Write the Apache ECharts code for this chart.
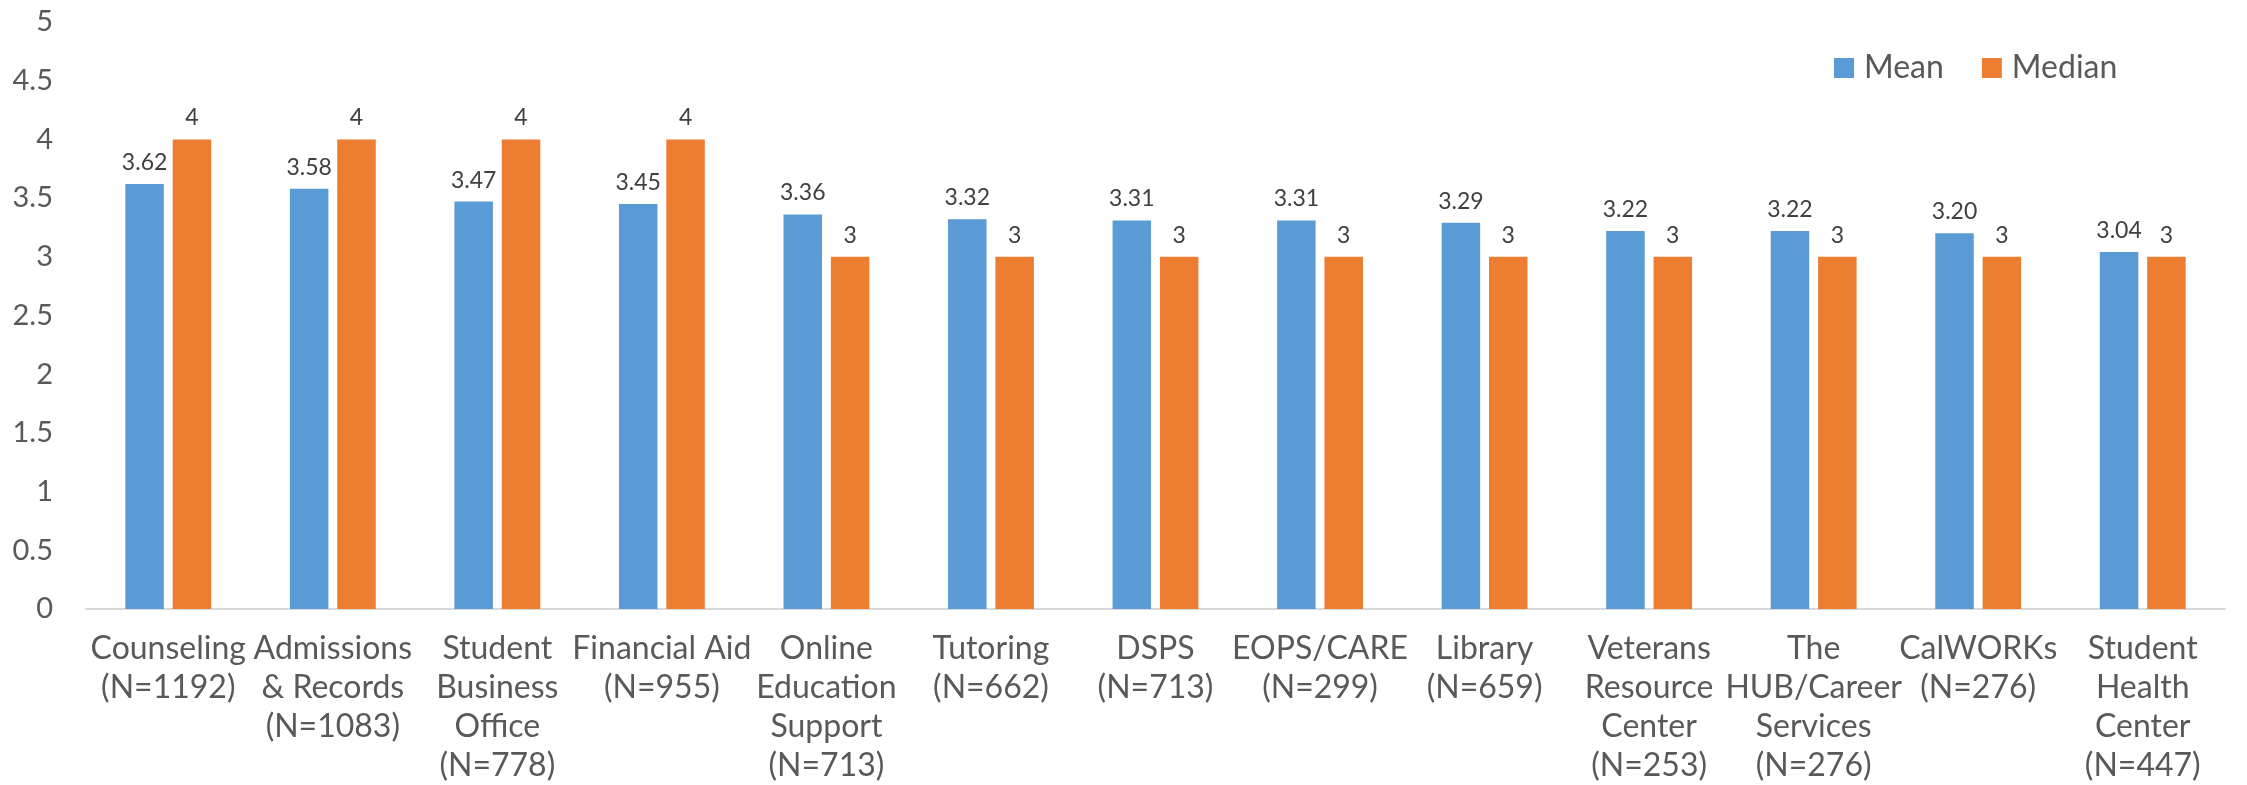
<!DOCTYPE html>
<html>
<head>
<meta charset="utf-8">
<script src="https://cdn.jsdelivr.net/npm/echarts@6/dist/echarts.min.js"></script>
<style>
html,body{margin:0;padding:0;background:#fff;}
#chart{width:2247px;height:785px;}
</style>
</head>
<body>
<div id="chart"></div>
<script>
const categories = [
  "Counseling\n(N=1192)",
  "Admissions\n& Records\n(N=1083)",
  "Student\nBusiness\nOffice\n(N=778)",
  "Financial Aid\n(N=955)",
  "Online\nEducation\nSupport\n(N=713)",
  "Tutoring\n(N=662)",
  "DSPS\n(N=713)",
  "EOPS/CARE\n(N=299)",
  "Library\n(N=659)",
  "Veterans\nResource\nCenter\n(N=253)",
  "The\nHUB/Career\nServices\n(N=276)",
  "CalWORKs\n(N=276)",
  "Student\nHealth\nCenter\n(N=447)"
];
const meanValues = [3.62, 3.58, 3.47, 3.45, 3.36, 3.32, 3.31, 3.31, 3.29, 3.22, 3.22, 3.20, 3.04];
const medianValues = [4, 4, 4, 4, 3, 3, 3, 3, 3, 3, 3, 3, 3];
const yTicks = [0, 0.5, 1, 1.5, 2, 2.5, 3, 3.5, 4, 4.5, 5];

const FONT = "Lato";
const chart = echarts.init(document.getElementById('chart'));
chart.setOption({
  animation: false,
  textStyle: {fontFamily: FONT},
  legend: {
    data: ['Mean', 'Median'],
    left: 1829,
    top: 43,
    itemWidth: 20,
    itemHeight: 20,
    itemGap: 38,
    icon: 'rect',
    textStyle: {fontFamily: FONT, fontSize: 32, lineHeight: 40, color: '#595959', padding: [0, 0, 0, 5]}
  },
  grid: {left: 86, right: 22, top: 22, bottom: 173, containLabel: false},
  xAxis: {
    type: 'category',
    data: categories,
    axisLine: {lineStyle: {color: '#D9D9D9', width: 2}},
    axisTick: {show: false},
    axisLabel: {
      interval: 0,
      margin: 20,
      fontFamily: FONT,
      fontSize: 32,
      lineHeight: 39,
      color: '#595959',
      align: 'center'
    }
  },
  yAxis: {
    type: 'value',
    min: yTicks[0],
    max: yTicks[yTicks.length - 1],
    interval: 0.5,
    splitLine: {show: false},
    axisLine: {show: false},
    axisTick: {show: false},
    axisLabel: {
      margin: 33,
      fontFamily: FONT,
      fontSize: 29,
      color: '#595959',
      formatter: v => String(v)
    }
  },
  series: [
    {
      name: 'Mean',
      type: 'bar',
      data: meanValues,
      barWidth: '23.4%',
      barGap: '23%',
      itemStyle: {color: '#5B9BD5'},
      label: {
        show: true,
        position: 'top',
        distance: 10,
        fontFamily: FONT,
        fontSize: 23,
        color: '#404040',
        formatter: p => p.value.toFixed(2)
      }
    },
    {
      name: 'Median',
      type: 'bar',
      data: medianValues,
      barWidth: '23.4%',
      barGap: '23%',
      itemStyle: {color: '#ED7D31'},
      label: {
        show: true,
        position: 'top',
        distance: 10,
        fontFamily: FONT,
        fontSize: 23,
        color: '#404040',
        formatter: p => String(p.value)
      }
    }
  ]
});
</script>
</body>
</html>
